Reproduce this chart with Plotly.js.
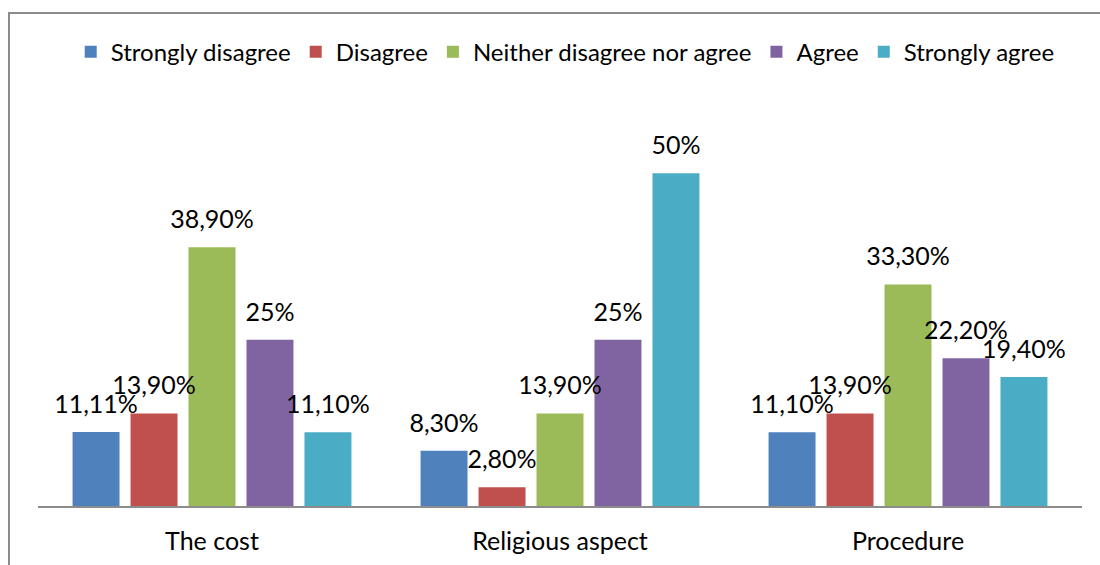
<!DOCTYPE html>
<html>
<head>
<meta charset="utf-8">
<script src="https://cdn.plot.ly/plotly-3.0.1.min.js"></script>
<style>
html,body{margin:0;padding:0;background:#fff;}
#wrap{position:absolute;left:0;top:0;width:1100px;height:565px;}
#frame{position:absolute;left:8px;top:12px;width:1100px;height:600px;border-left:2px solid #8c8c8c;border-top:2px solid #8c8c8c;pointer-events:none;}
#chart{position:absolute;left:0;top:0;width:1100px;height:565px;}
</style>
</head>
<body>
<div id="wrap"><div id="chart"></div><div id="frame"></div></div>
<script>
const categories = ["The cost", "Religious aspect", "Procedure"];
const seriesNames = ["Strongly disagree", "Disagree", "Neither disagree nor agree", "Agree", "Strongly agree"];
const stronglyDisagree = [11.11, 8.3, 11.1];
const disagree = [13.9, 2.8, 13.9];
const neither = [38.9, 13.9, 33.3];
const agree = [25, 25, 22.2];
const stronglyAgree = [11.1, 50, 19.4];
const labelsStronglyDisagree = ["11,11%", "8,30%", "11,10%"];
const labelsDisagree = ["13,90%", "2,80%", "13,90%"];
const labelsNeither = ["38,90%", "13,90%", "33,30%"];
const labelsAgree = ["25%", "25%", "22,20%"];
const labelsStronglyAgree = ["11,10%", "50%", "19,40%"];
const colors = ["#4F81BD", "#C0504D", "#9BBB59", "#8064A2", "#4BACC6"];

const values = [stronglyDisagree, disagree, neither, agree, stronglyAgree];
const labels = [labelsStronglyDisagree, labelsDisagree, labelsNeither, labelsAgree, labelsStronglyAgree];
const FONT = "Lato, 'Open Sans', sans-serif";
const FS = 25;

const barTraces = values.map((v, i) => ({
  type: "bar",
  name: seriesNames[i],
  x: categories,
  y: v,
  marker: {color: colors[i]},
  hoverinfo: "skip"
}));

const textTraces = values.map((v, i) => ({
  type: "scatter",
  mode: "markers+text",
  name: seriesNames[i] + " labels",
  showlegend: false,
  x: categories,
  y: v,
  text: labels[i],
  textposition: "top center",
  textfont: {family: FONT, size: FS, color: "#000"},
  marker: {size: 19, color: "rgba(0,0,0,0)"},
  cliponaxis: false,
  hoverinfo: "skip"
}));

const layout = {
  width: 1100, height: 565,
  margin: {l: 38, r: 18, t: 20, b: 59},
  paper_bgcolor: "rgba(0,0,0,0)",
  plot_bgcolor: "rgba(0,0,0,0)",
  barmode: "group",
  bargap: 0.167,
  bargroupgap: 0.19,
  scattermode: "group",
  scattergap: 0.167,
  font: {family: FONT, size: FS, color: "#000"},
  showlegend: true,
  legend: {orientation: "h", x: 0.505, xanchor: "center", y: 0.934, yanchor: "middle",
           font: {family: FONT, size: 24, color: "#000"}, itemclick: false, bgcolor: "rgba(0,0,0,0)"},
  xaxis: {showline: true, linecolor: "#8c8c8c", linewidth: 2, ticks: "", showgrid: false,
          ticklabelstandoff: 12,
          tickfont: {family: FONT, size: FS, color: "#000"}, fixedrange: true},
  yaxis: {range: [0, 73.04], visible: false, showgrid: false, zeroline: false, fixedrange: true}
};

Plotly.newPlot("chart", barTraces.concat(textTraces), layout, {displayModeBar: false, staticPlot: true});
</script>
</body>
</html>
